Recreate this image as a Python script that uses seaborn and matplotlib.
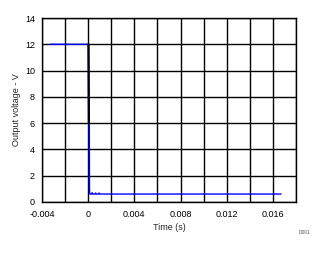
import matplotlib
matplotlib.use("Agg")
import matplotlib.pyplot as plt
import seaborn as sns
import pandas as pd

# Blue trace (output voltage)
time_s = [-0.0033, 0.00005, 0.0001, 0.00012, 0.00015, 0.0003, 0.00035, 0.0004, 0.0006, 0.00065, 0.0007, 0.0009, 0.00095, 0.001, 0.0012, 0.0167]
voltage_v = [12.0, 12.0, 6.2, 0.9, 0.6, 0.6, 0.7, 0.6, 0.6, 0.68, 0.6, 0.6, 0.68, 0.6, 0.6, 0.6]
# Black fast-fall segment
edge_time = [0.00002, 0.00006]
edge_volt = [12.0, 6.0]

x_ticks = [-0.004, 0, 0.004, 0.008, 0.012, 0.016]
x_tick_labels = ["-0.004", "0", "0.004", "0.008", "0.012", "0.016"]
y_ticks = [0, 2, 4, 6, 8, 10, 12, 14]

sns.set_theme(style="white")
plt.rcParams['font.family'] = ['Liberation Sans', 'DejaVu Sans']

fig = plt.figure(figsize=(3.25, 2.54), dpi=100)
ax = fig.add_axes([0.129, 0.205, 0.782, 0.724])

df = pd.DataFrame({"t": time_s, "v": voltage_v})
sns.lineplot(data=df, x="t", y="v", sort=False, estimator=None, color="#0000ff", linewidth=1.0, ax=ax, zorder=3)
df2 = pd.DataFrame({"t": edge_time, "v": edge_volt})
sns.lineplot(data=df2, x="t", y="v", sort=False, estimator=None, color="black", linewidth=1.5, ax=ax, zorder=4)

ax.set_xlim(-0.004, 0.018)
ax.set_ylim(0, 14)
ax.set_xticks(x_ticks)
ax.set_xticklabels(x_tick_labels)
ax.set_xticks([-0.002, 0.002, 0.006, 0.010, 0.014, 0.018], minor=True)
ax.set_yticks(y_ticks)
ax.grid(True, which="both", color="black", linewidth=1.0)
ax.tick_params(which="both", length=0, labelsize=6.5, colors="black")
ax.tick_params(axis="x", pad=6)
ax.tick_params(axis="y", pad=5)
for s in ax.spines.values():
    s.set_color("black")
    s.set_linewidth(1.0)
ax.set_xlabel("Time (s)", fontsize=6.5, labelpad=3)
ax.set_ylabel("Output voltage - V", fontsize=6.5, labelpad=3)
fig.text(0.955, 0.08, "D001", fontsize=3.5, color="#555555", ha="right")

fig.savefig("out.png", dpi=100)
